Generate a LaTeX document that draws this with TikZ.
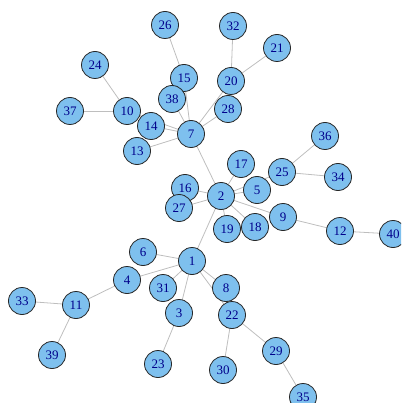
\documentclass[tikz,border=0pt]{standalone}
\usepackage{fontspec}
\setmainfont{Liberation Serif}
\usetikzlibrary{backgrounds}
\definecolor{vfill}{HTML}{7EC0EE}
\definecolor{vtext}{HTML}{00008B}
\definecolor{ecol}{HTML}{BEBEBE}
\tikzset{
  v/.style={circle, draw=black!85, line width=0.8pt, fill=vfill, minimum size=27pt, inner sep=0pt, text=vtext, font=\fontsize{13}{13}\selectfont},
  e/.style={draw=ecol, line width=0.8pt}
}
\begin{document}
\begin{tikzpicture}[x=1pt,y=-1pt]
\useasboundingbox (0,0) rectangle (401,403);
\clip (0,0) rectangle (401,403);
\node[v] (n26) at (165,25) {26};
\node[v] (n32) at (233,26) {32};
\node[v] (n21) at (277,48) {21};
\node[v] (n24) at (95,65) {24};
\node[v] (n20) at (231,81) {20};
\node[v] (n15) at (184,78) {15};
\node[v] (n38) at (172,99) {38};
\node[v] (n28) at (228,109) {28};
\node[v] (n37) at (70,111) {37};
\node[v] (n10) at (127,111) {10};
\node[v] (n14) at (151,126) {14};
\node[v] (n7) at (191,134) {7};
\node[v] (n13) at (137,151) {13};
\node[v] (n36) at (325,136) {36};
\node[v] (n17) at (241,164) {17};
\node[v] (n25) at (282,172) {25};
\node[v] (n34) at (338,177) {34};
\node[v] (n16) at (185,188) {16};
\node[v] (n5) at (257,190) {5};
\node[v] (n2) at (221,196) {2};
\node[v] (n27) at (179,208) {27};
\node[v] (n9) at (283,217) {9};
\node[v] (n19) at (227,229) {19};
\node[v] (n18) at (255,227) {18};
\node[v] (n12) at (340,231) {12};
\node[v] (n40) at (393,234) {40};
\node[v] (n6) at (143,252) {6};
\node[v] (n1) at (192,261) {1};
\node[v] (n4) at (127,280) {4};
\node[v] (n31) at (163,288) {31};
\node[v] (n33) at (22,301) {33};
\node[v] (n11) at (76,305) {11};
\node[v] (n8) at (226,288) {8};
\node[v] (n3) at (179,313) {3};
\node[v] (n22) at (232,315) {22};
\node[v] (n29) at (276,351) {29};
\node[v] (n39) at (52,355) {39};
\node[v] (n23) at (158,364) {23};
\node[v] (n30) at (223,370) {30};
\node[v] (n35) at (303,397) {35};
\begin{scope}[on background layer]
\foreach \a/\b in {1/2,1/6,1/4,1/31,1/3,1/8,1/22,4/11,11/33,11/39,3/23,22/30,22/29,29/35,
  2/7,2/17,2/5,2/25,2/16,2/27,2/19,2/18,2/9,9/12,12/40,25/36,25/34,
  7/15,7/38,7/14,7/10,7/13,7/20,7/28,15/26,20/32,20/21,10/24,10/37}
  \draw[e] (n\a.center) -- (n\b.center);
\end{scope}
\end{tikzpicture}
\end{document}
